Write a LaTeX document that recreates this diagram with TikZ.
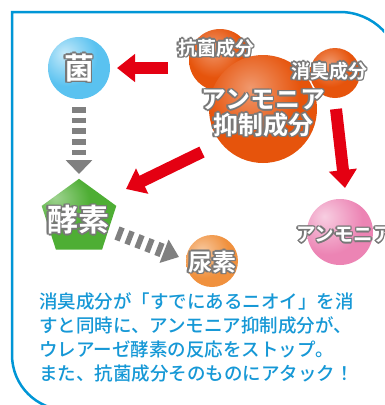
\documentclass[tikz,border=0pt]{standalone}
\usepackage{fontspec}
\setmainfont{Noto Sans CJK JP}
\newfontfamily\jpb{Noto Sans CJK JP Bold}
\newfontfamily\jpm{Noto Sans CJK JP Medium}
\usetikzlibrary{arrows.meta,shapes.geometric,calc}
\definecolor{kblue}{RGB}{90,194,240}
\definecolor{korange}{RGB}{230,84,12}
\definecolor{kurea}{RGB}{240,145,62}
\definecolor{kpink}{RGB}{236,132,180}
\definecolor{kgreen}{RGB}{78,174,52}
\definecolor{kred}{RGB}{228,0,18}
\definecolor{kgray}{RGB}{128,128,128}
\definecolor{olgray}{RGB}{120,120,120}
\definecolor{frameblue}{RGB}{0,150,214}
\definecolor{textblue}{RGB}{22,152,214}
\pgfdeclareradialshading{sblue}{\pgfpoint{-12bp}{12bp}}{color(0bp)=(kblue!35!white); color(24bp)=(kblue); color(100bp)=(kblue)}
\pgfdeclareradialshading{sorange}{\pgfpoint{-6bp}{10bp}}{color(0bp)=(korange!60!white); color(22bp)=(korange); color(100bp)=(korange)}
\pgfdeclareradialshading{surea}{\pgfpoint{-10bp}{10bp}}{color(0bp)=(kurea!50!white); color(24bp)=(kurea); color(100bp)=(kurea)}
\pgfdeclareradialshading{spink}{\pgfpoint{-12bp}{12bp}}{color(0bp)=(kpink!40!white); color(26bp)=(kpink); color(100bp)=(kpink)}
\pgfdeclareradialshading{sgreen}{\pgfpoint{-16bp}{12bp}}{color(0bp)=(kgreen!55!white); color(20bp)=(kgreen); color(100bp)=(kgreen)}
\newcommand\olbl[5][]{%
  \foreach \ang in {0,45,...,315}{\node[inner sep=0pt, font=\jpb\fontsize{#4}{#4}\selectfont, text=olgray, #1] at ($(#3)+(\ang:1.5)$) {#5};}
  \node[inner sep=0pt, font=\jpb\fontsize{#4}{#4}\selectfont, text=white, #1] (#2) at (#3) {#5};}
\begin{document}
\begin{tikzpicture}[x=1pt,y=-1pt,
  ball/.style={circle, inner sep=0pt, minimum size=#1},
  redarrow/.style={draw=kred, line width=12pt, -{Triangle[width=27pt,length=18pt]}},
  grayarrow/.style={draw=kgray, line width=14pt, dash pattern=on 5.5pt off 5.2pt, -{Triangle[width=26pt,length=14pt]}},
  frame/.style={draw=frameblue, line width=2.5pt}]
\useasboundingbox (0,0) rectangle (384,405);
\clip (0,0) rectangle (384,405);
\fill[white] (0,0) rectangle (384,405);
% frame
\draw[frame] (420,410) -- (67,410) .. controls (36.6,410) and (12,385.4) .. (12,355) -- (12,12) -- (340,12) .. controls (373.1,12) and (400,38.9) .. (400,72) -- (400,420);
% circles
\node[ball=62pt, shading=sblue] (kin) at (79,68) {};
\node[ball=62pt, shading=sorange] (kokin) at (220,60) {};
\node[ball=50pt, shading=sorange] (shoshu) at (335,73) {};
\node[ball=108pt, shading=sorange] (yokusei) at (263,109) {};
\node[ball=52pt, shading=surea] (nyoso) at (212,261) {};
\node[ball=66pt, shading=spink] (ammonia) at (340,232) {};
\node[regular polygon, regular polygon sides=5, minimum size=78.4pt, inner sep=0pt, shading=sgreen] (koso) at (79,218) {};
% arrows
\coordinate (a1s) at (168,68); \coordinate (a1e) at (117,68);
\coordinate (a2s) at (202,152); \coordinate (a2e) at (126,189);
\coordinate (a3s) at (336,109); \coordinate (a3e) at (345,188);
\draw[redarrow] (a1s) -- (a1e);
\draw[redarrow] (a2s) -- (a2e);
\draw[redarrow] (a3s) -- (a3e);
\coordinate (g1s) at (79,107); \coordinate (g1e) at (79,174);
\coordinate (g2s) at (117,233); \coordinate (g2e) at (179,257);
\draw[grayarrow] (g1s) -- (g1e);
\draw[grayarrow, -{Triangle[width=24pt,length=16pt]}] (g2s) -- (g2e);
% labels
\olbl{tkin}{79,68}{30}{菌}
\olbl{tkokin}{216,48}{19}{抗菌成分}
\olbl{tshoshu}{329,71}{19}{消臭成分}
\olbl{tam1}{263,100}{25}{アンモニア}
\olbl{tam2}{263,125}{25}{抑制成分}
\olbl{tkoso}{78,220}{31}{酵素}
\olbl{tnyoso}{212,262}{24}{尿素}
\olbl[anchor=west]{tammonia}{296,235}{19.5}{アンモニア}
% body text
\node[anchor=north west, inner sep=0pt, align=left, text=textblue, font=\jpm\fontsize{18.5}{24}\selectfont] (body) at (39,292) {消臭成分が「すでにあるニオイ」を消\\すと同時に、アンモニア抑制成分が、\\ウレアーゼ酵素の反応をストップ。\\また、抗菌成分そのものにアタック！};
\end{tikzpicture}
\end{document}
